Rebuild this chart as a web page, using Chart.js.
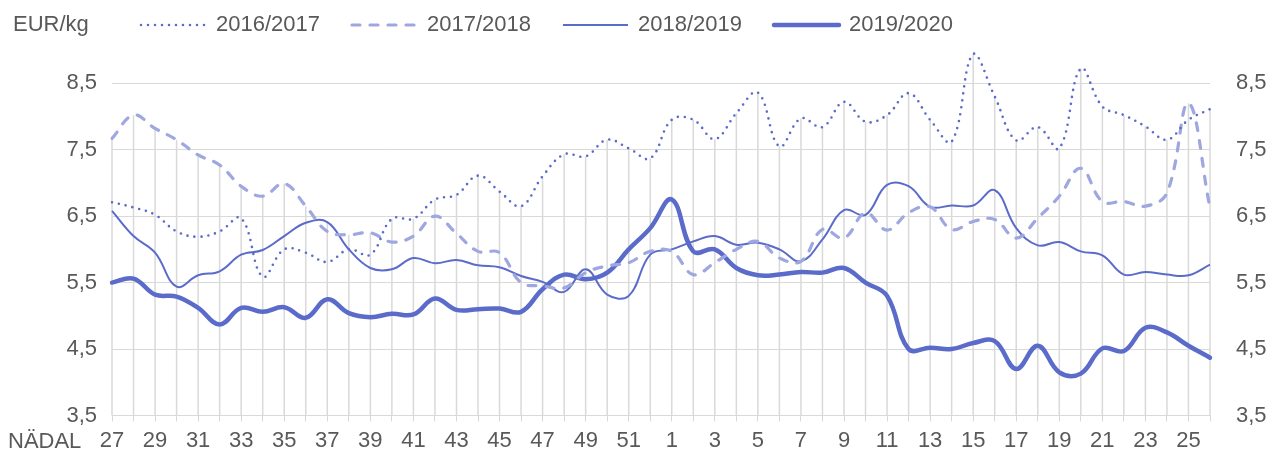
<!DOCTYPE html>
<html>
<head>
<meta charset="utf-8">
<script src="https://cdn.jsdelivr.net/npm/chart.js@4.4.1/dist/chart.umd.min.js"></script>
<style>
  html, body { margin: 0; padding: 0; background: #fff; }
</style>
</head>
<body>
<canvas id="chartDisplay" width="1274" height="453"></canvas>
<script>
// week numbers on the x axis (season runs from week 27 to week 26)
const weeks = [27,28,29,30,31,32,33,34,35,36,37,38,39,40,41,42,43,44,45,46,47,48,49,50,51,52,
               1,2,3,4,5,6,7,8,9,10,11,12,13,14,15,16,17,18,19,20,21,22,23,24,25,26];

// prices EUR/kg per season
const season1617 = [6.71,6.63,6.52,6.27,6.19,6.27,6.47,5.59,6.00,5.95,5.81,6.00,5.92,6.46,6.46,6.75,6.82,7.11,6.87,6.65,7.10,7.43,7.40,7.65,7.52,7.37,
                    7.95,7.95,7.66,8.05,8.36,7.55,7.97,7.84,8.22,7.92,8.02,8.35,7.95,7.62,8.94,8.30,7.64,7.84,7.52,8.72,8.15,8.02,7.85,7.65,7.95,8.11];
const season1718 = [7.67,8.02,7.82,7.65,7.42,7.27,6.95,6.80,6.99,6.65,6.27,6.22,6.25,6.11,6.20,6.50,6.24,5.97,5.95,5.50,5.45,5.42,5.65,5.75,5.80,5.97,
                    5.97,5.62,5.80,6.00,6.12,5.87,5.82,6.30,6.17,6.55,6.29,6.55,6.64,6.30,6.42,6.45,6.17,6.47,6.80,7.22,6.72,6.72,6.65,6.85,8.20,6.62];
const season1819 = [6.58,6.20,5.95,5.44,5.61,5.67,5.92,5.99,6.20,6.40,6.41,6.00,5.72,5.70,5.87,5.79,5.84,5.76,5.73,5.60,5.51,5.36,5.70,5.32,5.30,5.92,
                    6.00,6.12,6.20,6.07,6.10,6.00,5.82,6.15,6.59,6.52,6.97,6.95,6.64,6.66,6.66,6.89,6.32,6.06,6.11,5.97,5.91,5.62,5.66,5.62,5.61,5.77];
const season1920 = [5.50,5.56,5.32,5.29,5.12,4.87,5.12,5.06,5.13,4.97,5.25,5.04,4.98,5.03,5.02,5.26,5.09,5.10,5.11,5.06,5.40,5.62,5.55,5.65,6.00,6.32,
                    6.75,5.97,6.00,5.72,5.61,5.62,5.66,5.65,5.72,5.50,5.30,4.50,4.52,4.50,4.59,4.62,4.20,4.55,4.15,4.13,4.51,4.47,4.82,4.75,4.55,4.37];

const seasonNames = ['2016/2017','2017/2018','2018/2019','2019/2020'];
const yTicks = [3.5,4.5,5.5,6.5,7.5,8.5];

const blue = '#5a6bc9';
const lightBlue = '#9ea7e0';
const gridColor = '#d9d9d9';
const textColor = '#595959';
const fontFamily = "'Liberation Sans', Arial, sans-serif";

Chart.defaults.font.family = fontFamily;
Chart.defaults.font.size = 22;
Chart.defaults.color = textColor;

const commaLabel = v => v.toFixed(1).replace('.', ',');

// drop lines from the highest point of each week + legend and captions
const extras = {
  id: 'extras',
  beforeDatasetsDraw(chart) {
    const {ctx, scales: {x, y}} = chart;
    ctx.save();
    ctx.strokeStyle = gridColor;
    ctx.lineWidth = 1.5;
    weeks.forEach((w, i) => {
      const top = Math.max(...chart.data.datasets.map(d => d.data[i]));
      const px = x.getPixelForValue(i);
      ctx.beginPath();
      ctx.moveTo(px, y.getPixelForValue(top));
      ctx.lineTo(px, y.bottom);
      ctx.stroke();
    });
    ctx.restore();
  },
  afterDraw(chart) {
    const ctx = chart.ctx;
    ctx.save();
    ctx.font = '22px ' + fontFamily;
    ctx.fillStyle = textColor;
    ctx.textBaseline = 'middle';
    ctx.fillText('EUR/kg', 13, 25);
    ctx.fillText('NÄDAL', 8, 442);

    let lx = 141;
    chart.data.datasets.forEach(ds => {
      ctx.save();
      ctx.strokeStyle = ds.borderColor;
      ctx.lineWidth = ds.borderWidth;
      ctx.lineCap = ds.borderCapStyle || 'butt';
      ctx.setLineDash(ds.borderDash || []);
      ctx.beginPath();
      ctx.moveTo(lx, 25);
      ctx.lineTo(lx + 65, 25);
      ctx.stroke();
      ctx.restore();
      ctx.fillText(ds.label, lx + 75, 25);
      lx += 75 + ctx.measureText(ds.label).width + 32;
    });
    ctx.restore();
  }
};

new Chart(document.getElementById('chartDisplay'), {
  type: 'line',
  data: {
    labels: weeks,
    datasets: [
      { label: seasonNames[0], data: season1617, borderColor: blue, borderWidth: 2.6,
        borderDash: [0, 7], borderCapStyle: 'round' },
      { label: seasonNames[1], data: season1718, borderColor: lightBlue, borderWidth: 3.2,
        borderDash: [8, 10], borderCapStyle: 'round' },
      { label: seasonNames[2], data: season1819, borderColor: blue, borderWidth: 2 },
      { label: seasonNames[3], data: season1920, borderColor: blue, borderWidth: 4.5, borderCapStyle: 'round' }
    ]
  },
  options: {
    responsive: false,
    animation: false,
    layout: { padding: { top: 50, left: 0, right: 0, bottom: 0 } },
    elements: {
      point: { radius: 0 },
      line: { tension: 0.4, fill: false }
    },
    plugins: {
      legend: { display: false },
      tooltip: { enabled: false }
    },
    scales: {
      x: {
        grid: { drawOnChartArea: false, color: gridColor, tickLength: 6 },
        border: { color: gridColor },
        ticks: {
          autoSkip: false,
          maxRotation: 0,
          padding: 6,
          callback: (v, i) => (i % 2 === 0 ? weeks[i] : '')
        },
        afterFit: s => { s.height = 453 - 415.5; }
      },
      y: {
        min: 3.5,
        max: 9,
        grid: { color: gridColor, drawTicks: false },
        border: { display: false },
        ticks: { padding: 15, callback: commaLabel },
        afterBuildTicks: s => { s.ticks = yTicks.map(v => ({ value: v })); },
        afterFit: s => { s.width = 112; }
      },
      y2: {
        position: 'right',
        min: 3.5,
        max: 9,
        grid: { display: false },
        border: { display: false },
        ticks: { padding: 18, callback: commaLabel },
        afterBuildTicks: s => { s.ticks = yTicks.map(v => ({ value: v })); },
        afterFit: s => { s.width = 64; }
      }
    }
  },
  plugins: [extras]
});
</script>
</body>
</html>
